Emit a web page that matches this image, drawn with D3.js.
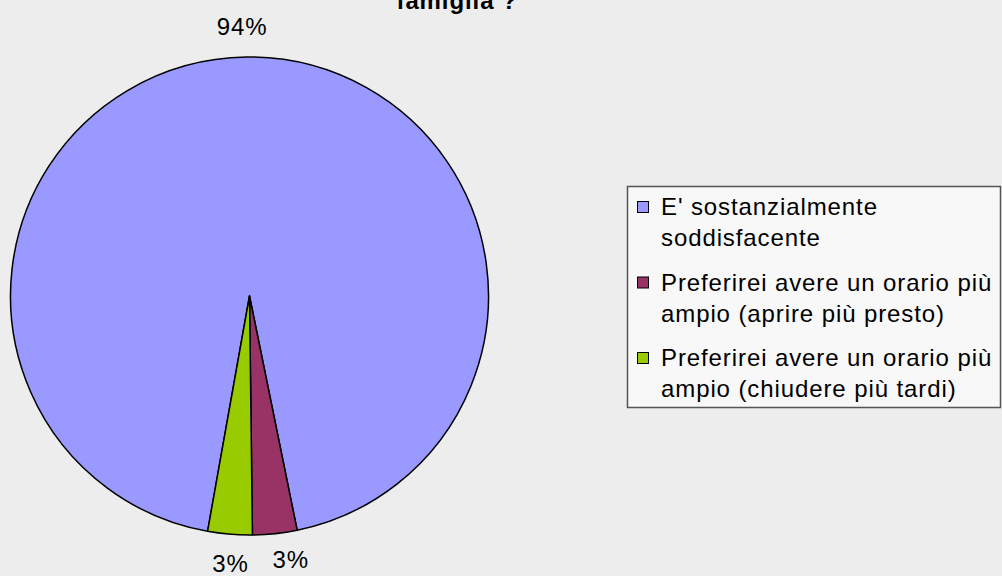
<!DOCTYPE html>
<html>
<head>
<meta charset="utf-8">
<script src="https://cdn.jsdelivr.net/npm/d3@7"></script>
<style>
  html, body { margin: 0; padding: 0; background: #ededed; }
  svg { display: block; font-family: "Liberation Sans", Arial, sans-serif; }
</style>
</head>
<body>
<div class="vis-pie"></div>
<script>
const categories = [
    "E' sostanzialmente soddisfacente",
    "Preferirei avere un orario più ampio (aprire più presto)",
    "Preferirei avere un orario più ampio (chiudere più tardi)"
];
const legendLines = [
    ["E' sostanzialmente", "soddisfacente"],
    ["Preferirei avere un orario più", "ampio (aprire più presto)"],
    ["Preferirei avere un orario più", "ampio (chiudere più tardi)"]
];
const values = [94, 3, 3];
const colors = ["#9999ff", "#993366", "#99cc00"];
const titleLine = "famiglia ?";

const W = 1002, H = 576;
const svg = d3.select('.vis-pie').append('svg')
    .attr('width', W)
    .attr('height', H);

svg.append('rect').attr('width', W).attr('height', H).attr('fill', '#ededed');

// title (first line is out of frame)
svg.append('text')
    .attr('x', 457)
    .attr('y', 9)
    .attr('text-anchor', 'middle')
    .style('font-size', '24px')
    .style('font-weight', 'bold')
    .style('letter-spacing', '0.9px')
    .text(titleLine);

const cx = 249.5, cy = 296, r = 239;
const data = categories.map((c, i) => ({name: c, value: values[i], color: colors[i]}));

// Excel-like start: first slice begins a little past 6 o'clock, clockwise
const start = 190.1 * Math.PI / 180;
const pie = d3.pie()
    .value(d => d.value)
    .sort(null)
    .startAngle(start)
    .endAngle(start + 2 * Math.PI);

const arc = d3.arc().innerRadius(0).outerRadius(r);
const labelArc = d3.arc().innerRadius(270).outerRadius(270);

const g = svg.append('g').attr('transform', `translate(${cx},${cy})`);

const arcs = pie(data);
g.selectAll('.slice')
    .data(arcs)
    .enter().append('path')
    .attr('class', 'slice')
    .attr('d', arc)
    .attr('fill', d => d.data.color)
    .attr('stroke', '#000')
    .attr('stroke-width', 1.5)
    .attr('stroke-linejoin', 'round');

const total = d3.sum(values);
const labelShift = [[-4, 0], [12.5, -5], [3, -2]];
g.selectAll('.pct')
    .data(arcs)
    .enter().append('text')
    .attr('class', 'pct')
    .attr('x', (d, i) => labelArc.centroid(d)[0] + labelShift[i][0])
    .attr('y', (d, i) => labelArc.centroid(d)[1] + labelShift[i][1])
    .attr('dy', '0.36em')
    .attr('text-anchor', 'middle')
    .style('font-size', '24px')
    .style('letter-spacing', '0.9px')
    .text(d => Math.round(d.data.value / total * 100) + '%');

// legend
const legend = svg.append('g');
legend.append('rect')
    .attr('x', 627.5).attr('y', 186.5)
    .attr('width', 373).attr('height', 221)
    .attr('fill', '#f8f8f8')
    .attr('stroke', '#555')
    .attr('stroke-width', 1.5);

const items = legend.selectAll('.item')
    .data(data)
    .enter().append('g')
    .attr('class', 'item')
    .attr('transform', (d, i) => `translate(0,${215 + i * 75.5})`);

items.append('rect')
    .attr('x', 637.5).attr('y', -13.5)
    .attr('width', 11).attr('height', 11)
    .attr('fill', d => d.color)
    .attr('stroke', '#000')
    .attr('stroke-width', 1);

items.each(function(d, i) {
    const t = d3.select(this);
    legendLines[i].forEach((line, j) => {
        t.append('text')
            .attr('x', 661)
            .attr('y', j * 31)
            .style('font-size', '24px')
            .style('letter-spacing', '0.9px')
            .text(line);
    });
});
</script>
</body>
</html>
